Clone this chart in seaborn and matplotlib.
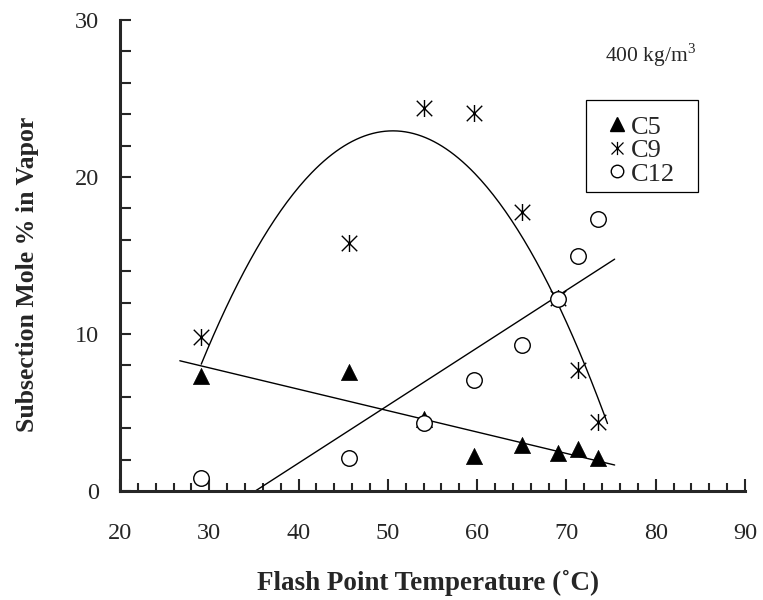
import numpy as np
import pandas as pd
import matplotlib

matplotlib.use("Agg")
import matplotlib.pyplot as plt
from matplotlib.path import Path
from matplotlib.lines import Line2D
from matplotlib.patches import Rectangle
import seaborn as sns

# flash point temperature of each subsection (degC)
flash_point = [29.1, 45.6, 54.0, 59.6, 65.0, 69.0, 71.3, 73.5]
# subsection mole % in vapor
c5 = [7.3, 7.6, 4.6, 2.2, 2.9, 2.4, 2.7, 2.1]
c9 = [9.8, 15.8, 24.4, 24.1, 17.8, 12.3, 7.7, 4.4]
c12 = [0.85, 2.1, 4.3, 7.1, 9.3, 12.25, 15.0, 17.3]
series_names = ["C5", "C9", "C12"]

# range of the trend lines
linear_range = [26.7, 75.4]
poly_range = [29.1, 74.6]

x_ticks = [20, 30, 40, 50, 60, 70, 80, 90]
y_ticks = [0, 10, 20, 30]

sns.set_style("ticks")
plt.rcParams["font.family"] = ["Liberation Serif", "DejaVu Serif"]
plt.rcParams["mathtext.fontset"] = "custom"
plt.rcParams["mathtext.rm"] = "Liberation Serif"

df = pd.DataFrame({"fp": flash_point, "C5": c5, "C9": c9, "C12": c12})

# star marker: X plus vertical bar
star = Path([(-1, -1), (1, 1), (-1, 1), (1, -1), (0, -1.1), (0, 1.1)],
            [Path.MOVETO, Path.LINETO] * 3)

fig = plt.figure(figsize=(7.63, 6.0), dpi=100)
ax = fig.add_axes([120 / 763, 1 - 491 / 600, 625 / 763, 471 / 600])

# trend lines
xl = np.linspace(linear_range[0], linear_range[1], 50)
for col in ["C5", "C12"]:
    k = np.polyfit(df["fp"], df[col], 1)
    sns.lineplot(x=xl, y=np.polyval(k, xl), color="black", lw=1.0, ax=ax)
xp = np.linspace(poly_range[0], poly_range[1], 200)
k9 = np.polyfit(df["fp"], df["C9"], 2)
sns.lineplot(x=xp, y=np.polyval(k9, xp), color="black", lw=1.0, ax=ax)

sns.scatterplot(data=df, x="fp", y="C5", marker="^", s=135, color="black",
                edgecolor="black", linewidth=0.5, ax=ax, zorder=3)
sns.scatterplot(data=df, x="fp", y="C9", marker=star, s=150, color="black",
                edgecolor="black", linewidth=1.0, ax=ax, zorder=3)
sns.scatterplot(data=df, x="fp", y="C12", marker="o", s=125, facecolor="white",
                edgecolor="black", linewidth=1.0, ax=ax, zorder=3)

ax.set_xlim(20, 90)
ax.set_ylim(0, 30)
ax.set_xticks(x_ticks)
ax.set_yticks(y_ticks)
ax.set_xticks(np.arange(20, 91, 2), minor=True)
ax.set_yticks(np.arange(0, 31, 2), minor=True)
ax.tick_params(axis="x", which="major", direction="in", length=9, width=1.5,
               labelsize=17.5, pad=23)
ax.tick_params(axis="x", which="minor", direction="in", length=6, width=1.5)
ax.tick_params(axis="y", which="both", direction="in", length=8, width=1.5,
               labelsize=17.5, pad=15)
for side in ["top", "right"]:
    ax.spines[side].set_visible(False)
for side in ["left", "bottom"]:
    ax.spines[side].set_linewidth(2.2)

ax.set_xlabel("Flash Point Temperature (˚C)", fontsize=19.5, fontweight="bold")
ax.set_ylabel("Subsection Mole % in Vapor", fontsize=18.5, fontweight="bold")
ax.xaxis.set_label_coords(0.493, -0.168)
ax.yaxis.set_label_coords(-0.13, 0.46)

ax.text(0.848, 0.926, "400 kg/m$^3$", transform=ax.transAxes, fontsize=15.5,
        ha="center", va="center")

handles = [
    Line2D([], [], ls="none", marker="^", color="black", markersize=9.5),
    Line2D([], [], ls="none", marker=star, color="black", markersize=9.5,
           markeredgewidth=0.9),
    Line2D([], [], ls="none", marker="o", markerfacecolor="white",
           markeredgecolor="black", markersize=9),
]
ax.legend(handles, series_names, loc="upper left",
          bbox_to_anchor=(0.779, 0.798), borderaxespad=0, fontsize=19,
          frameon=False, handlelength=0.8, handletextpad=0.1,
          labelspacing=0.0, borderpad=0)
# legend box
ax.add_patch(Rectangle((0.7456, 0.6348), 0.1792, 0.1953,
                       transform=ax.transAxes, fill=False, lw=0.9,
                       edgecolor="black", zorder=4))

fig.savefig("out.png", dpi=100)
